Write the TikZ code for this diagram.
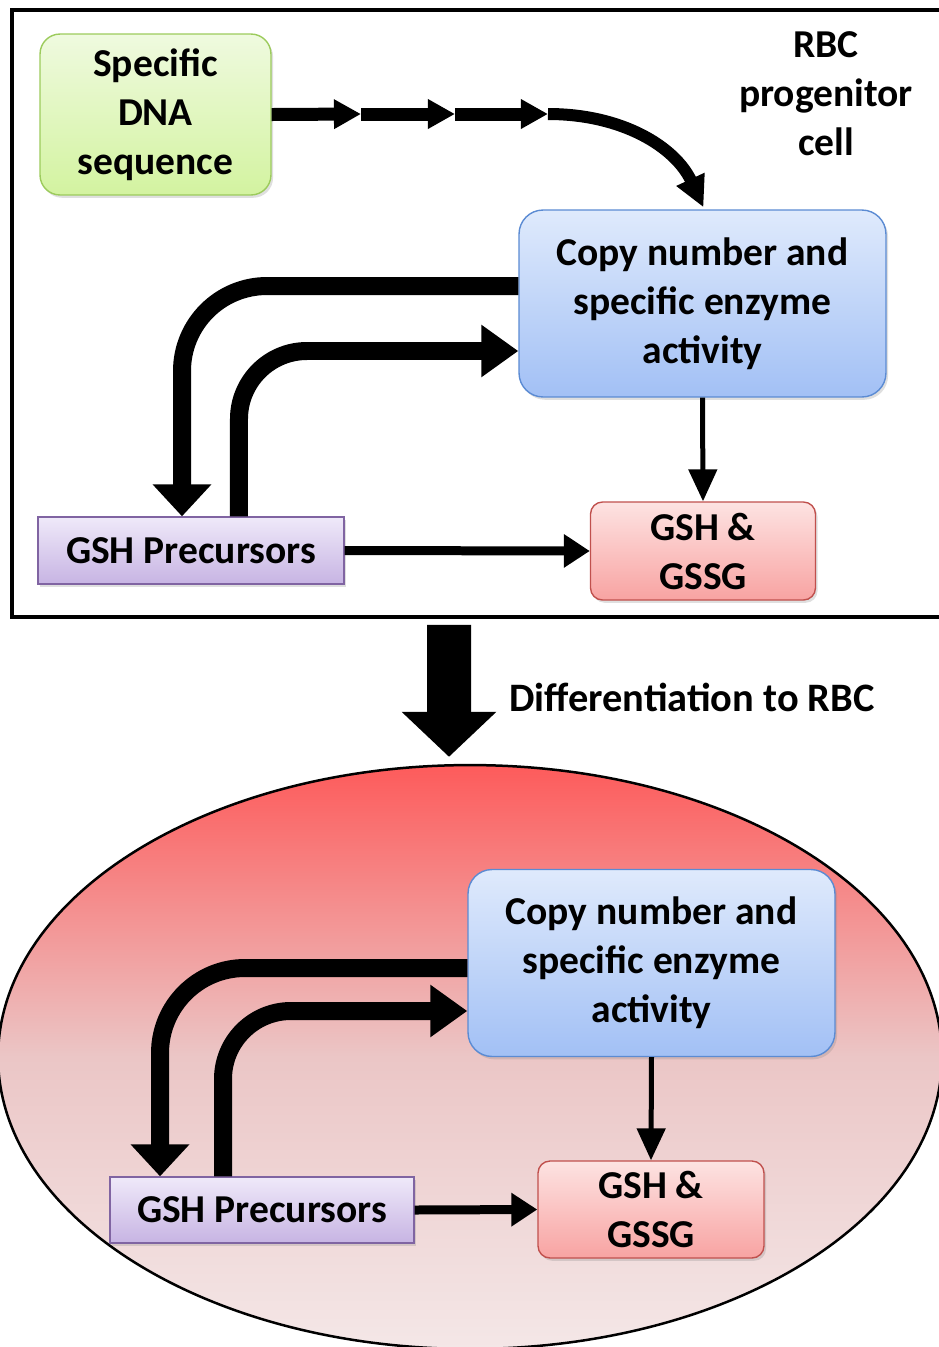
\documentclass[tikz,border=0pt]{standalone}
\usepackage{fontspec}
\setmainfont{Carlito}
\usetikzlibrary{arrows.meta,shapes.geometric,shadows}
\newlength{\unitpx}\setlength{\unitpx}{0.56905pt}
\definecolor{dnatop}{HTML}{EFFADF}\definecolor{dnabot}{HTML}{D3F3A0}\definecolor{dnaline}{HTML}{9CCB5C}
\definecolor{copytop}{HTML}{DFEAFC}\definecolor{copybot}{HTML}{A2C0F5}\definecolor{copyline}{HTML}{5B8BD3}
\definecolor{pretop}{HTML}{EFE9F9}\definecolor{prebot}{HTML}{C7B4E3}\definecolor{preline}{HTML}{8064A2}
\definecolor{gshtop}{HTML}{FDE3E2}\definecolor{gshbot}{HTML}{F8A3A2}\definecolor{gshline}{HTML}{C0504D}
\definecolor{rbctop}{HTML}{FD5B5B}\definecolor{rbcmid}{HTML}{EBC6C6}\definecolor{rbcbot}{HTML}{F4E7E7}
\tikzset{
  box/.style={draw, line width=1.4\unitpx, align=center, inner sep=0pt,
    font=\fontsize{22.5}{27.9}\selectfont\bfseries,
    drop shadow={shadow xshift=1.2pt, shadow yshift=-1.6pt, opacity=0.25}},
  dnabox/.style={box, rounded corners=20\unitpx, draw=dnaline, top color=dnatop, bottom color=dnabot, minimum width=231\unitpx, minimum height=161\unitpx},
  copybox/.style={box, rounded corners=24\unitpx, draw=copyline, top color=copytop, bottom color=copybot, minimum width=367\unitpx, minimum height=187\unitpx},
  prebox/.style={box, draw=preline, top color=pretop, bottom color=prebot, minimum width=306\unitpx, minimum height=67\unitpx},
  gshbox/.style={box, rounded corners=12\unitpx, draw=gshline, top color=gshtop, bottom color=gshbot, minimum width=225\unitpx, minimum height=98\unitpx},
  flow/.style={line width=13\unitpx, -{Triangle[width=15.9pt,length=15.4pt]}},
  bendarrow/.style={line width=12\unitpx, -{Triangle[width=16.5pt,length=17.6pt]}},
  loopback/.style={line width=18\unitpx, -{Triangle[width=32.4pt,length=18.2pt]}},
  loopfwd/.style={line width=18\unitpx, -{Triangle[width=28.5pt,length=21.1pt]}},
  feed/.style={line width=9\unitpx, -{Triangle[width=18.2pt,length=14.8pt]}},
  product/.style={line width=5\unitpx, -{Triangle[width=15.9pt,length=18.2pt]}},
  diffarrow/.style={line width=44\unitpx, -{Triangle[width=52.4pt,length=25.6pt]}},
}
\begin{document}
\begin{tikzpicture}[x=0.02cm, y=-0.02cm]
  \useasboundingbox (0,0) rectangle (938,1347);
  % Progenitor cell
  \node[draw, line width=4\unitpx, minimum width=930\unitpx, minimum height=607\unitpx, inner sep=0pt] (cell) at (477,313.5) {};
  \node[align=center, font=\fontsize{22.5}{27.9}\selectfont\bfseries] (celllabel) at (826,94) {RBC\\progenitor\\cell};
  \node[dnabox] (dna) at (155.5,114.5) {Specific\\DNA\\sequence};
  \node[copybox] (copy) at (702.5,303.5) {Copy number and\\specific enzyme\\activity};
  \node[prebox] (pre) at (191,550.5) {GSH Precursors};
  \node[gshbox] (gsh) at (703,551) {GSH \&\\GSSG};
  \coordinate (c1) at (361,114);
  \coordinate (c2) at (455,114);
  \coordinate (c3) at (548,114);
  \draw[flow] (dna.east) -- (c1);
  \draw[flow] (c1) -- (c2);
  \draw[flow] (c2) -- (c3);
  \draw[bendarrow] (c3) .. controls +(75,0) and +(-28,-60) .. ([xshift=1\unitpx,yshift=2\unitpx]copy.north);
  \draw[loopback, rounded corners=85\unitpx] ([yshift=17.5\unitpx]copy.west) -| ([xshift=-9\unitpx]pre.north);
  \draw[loopfwd, rounded corners=68\unitpx] ([xshift=48\unitpx]pre.north) |- ([yshift=-47.5\unitpx]copy.west);
  \draw[product] (copy.south) -- (gsh.north);
  \draw[feed] (pre.east) -- (gsh.west);
  % Differentiation
  \node[ellipse, draw, line width=2.5\unitpx, top color=rbctop, bottom color=rbcbot, middle color=rbcmid, minimum width=944\unitpx, minimum height=584\unitpx, inner sep=0pt] (rbc) at (470,1057) {};
  \draw[diffarrow] ([xshift=-28\unitpx,yshift=-6\unitpx]cell.south) -- ([xshift=-21\unitpx,yshift=7\unitpx]rbc.north);
  \node[anchor=west, font=\fontsize{23}{28}\selectfont\bfseries] (difflabel) at (503,697) {Differentiation to RBC};
  % Red blood cell
  \node[copybox] (copy2) at (651.5,963) {Copy number and\\specific enzyme\\activity};
  \node[prebox, minimum width=304\unitpx, minimum height=66\unitpx] (pre2) at (262,1210) {GSH Precursors};
  \node[gshbox, minimum width=226\unitpx, minimum height=97\unitpx] (gsh2) at (651,1209.5) {GSH \&\\GSSG};
  \draw[loopback, rounded corners=85\unitpx] ([yshift=-5\unitpx]copy2.west) -| ([xshift=-102\unitpx]pre2.north);
  \draw[loopfwd, rounded corners=68\unitpx] ([xshift=-39\unitpx]pre2.north) |- ([yshift=-48\unitpx]copy2.west);
  \draw[product] (copy2.south) -- (gsh2.north);
  \draw[feed] (pre2.east) -- (gsh2.west);
\end{tikzpicture}
\end{document}
